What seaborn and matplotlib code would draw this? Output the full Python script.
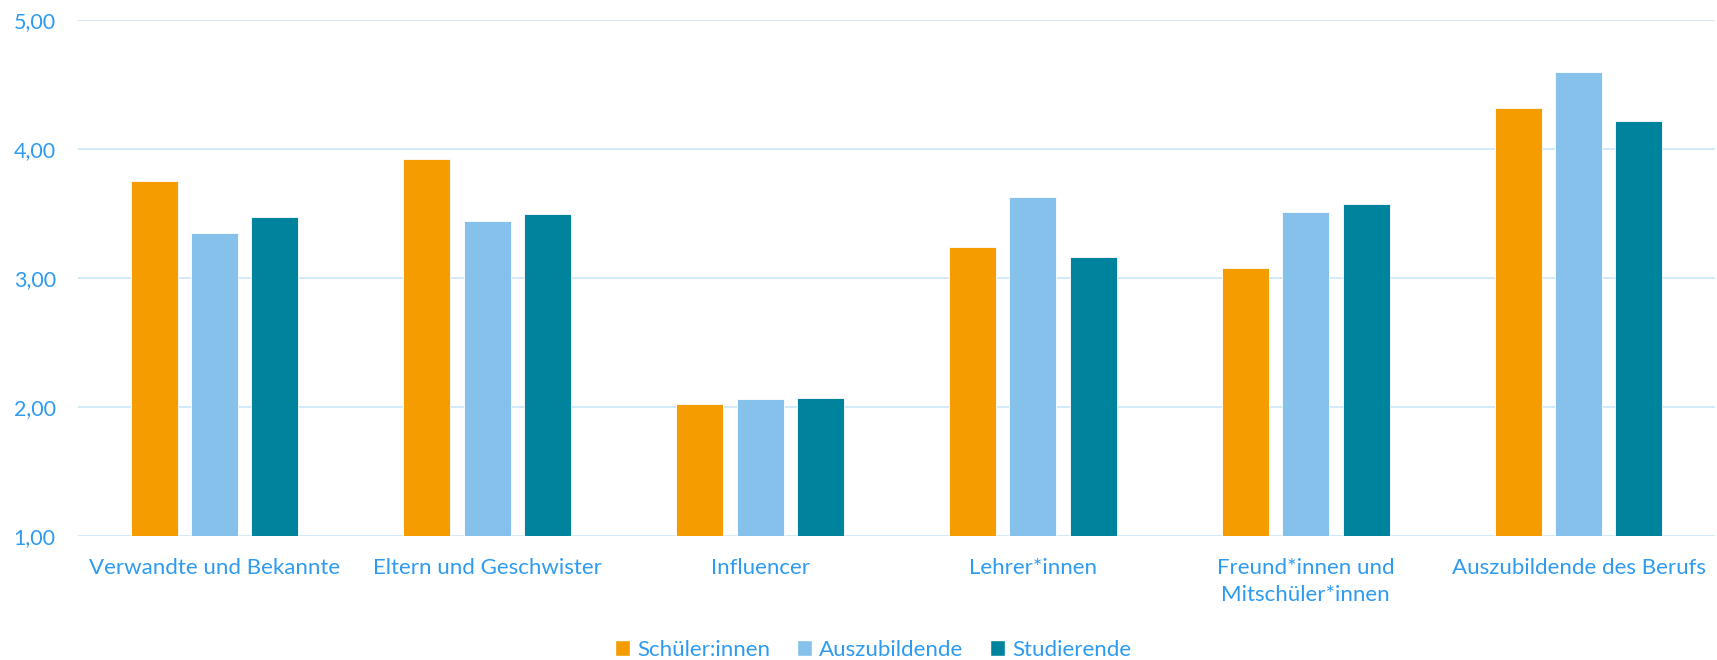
import matplotlib
matplotlib.use("Agg")
import matplotlib.pyplot as plt
import matplotlib.ticker as mticker
from matplotlib.patches import Patch
import seaborn as sns
import pandas as pd

categories = [
    "Verwandte und Bekannte",
    "Eltern und Geschwister",
    "Influencer",
    "Lehrer*innen",
    "Freund*innen und\nMitschüler*innen",
    "Auszubildende des Berufs",
]
groups = ["Schüler:innen", "Auszubildende", "Studierende"]
schueler = [3.75, 3.92, 2.02, 3.24, 3.08, 4.32]
azubis = [3.35, 3.44, 2.06, 3.63, 3.51, 4.60]
studierende = [3.47, 3.50, 2.07, 3.16, 3.57, 4.22]
y_ticks = [1, 2, 3, 4, 5]

colors = ["#F59D00", "#85C1EA", "#00849E"]
text_color = "#2E9BF0"
grid_color = "#CFE8FA"

rows = []
for g, vals in zip(groups, [schueler, azubis, studierende]):
    for c, v in zip(categories, vals):
        rows.append({"Kategorie": c, "Gruppe": g, "Wert": v})
df = pd.DataFrame(rows)

sns.set_theme(style="white")
plt.rcParams["font.family"] = ["Lato", "DejaVu Sans"]

fig = plt.figure(figsize=(17.17, 6.6), dpi=100)
ax = fig.add_axes([78 / 1717, 1 - 536 / 660, (1715 - 78) / 1717, (536 - 20) / 660])

sns.barplot(
    data=df, x="Kategorie", y="Wert", hue="Gruppe",
    order=categories, hue_order=groups, palette=colors,
    width=0.663, gap=0.22, bottom=0, ax=ax, legend=False,
    edgecolor="white", linewidth=0.6, saturation=1,
)
# bars start from the 1,00 baseline
for p in ax.patches:
    h = p.get_height()
    p.set_y(1)
    p.set_height(h - 1)

ax.set_ylim(1, 5)
ax.set_xlim(-0.5, len(categories) - 0.5)
ax.set_yticks(y_ticks)
ax.yaxis.set_major_formatter(mticker.FuncFormatter(lambda v, _: f"{v:.2f}".replace(".", ",")))
ax.grid(axis="y", color=grid_color, linewidth=1.3)
ax.set_axisbelow(True)
for s in ax.spines.values():
    s.set_visible(False)
ax.tick_params(axis="y", colors=text_color, labelsize=15.5, length=0, pad=16)
ax.tick_params(axis="x", colors=text_color, labelsize=16, length=0, pad=16)
for lbl in ax.get_xticklabels():
    lbl.set_linespacing(1.45)
for lbl in ax.get_yticklabels():
    lbl.set_horizontalalignment("right")
ax.set_xlabel("")
ax.set_ylabel("")

handles = [Patch(facecolor=c, label=g) for c, g in zip(colors, groups)]
leg = fig.legend(
    handles=handles, loc="center", bbox_to_anchor=(873 / 1717, 1 - 650 / 660),
    ncol=3, frameon=False, fontsize=16, handlelength=0.7, handleheight=0.7,
    handletextpad=0.3, columnspacing=1.2, borderaxespad=0,
)
for t in leg.get_texts():
    t.set_color(text_color)

fig.savefig("out.png", dpi=100, facecolor="white")
